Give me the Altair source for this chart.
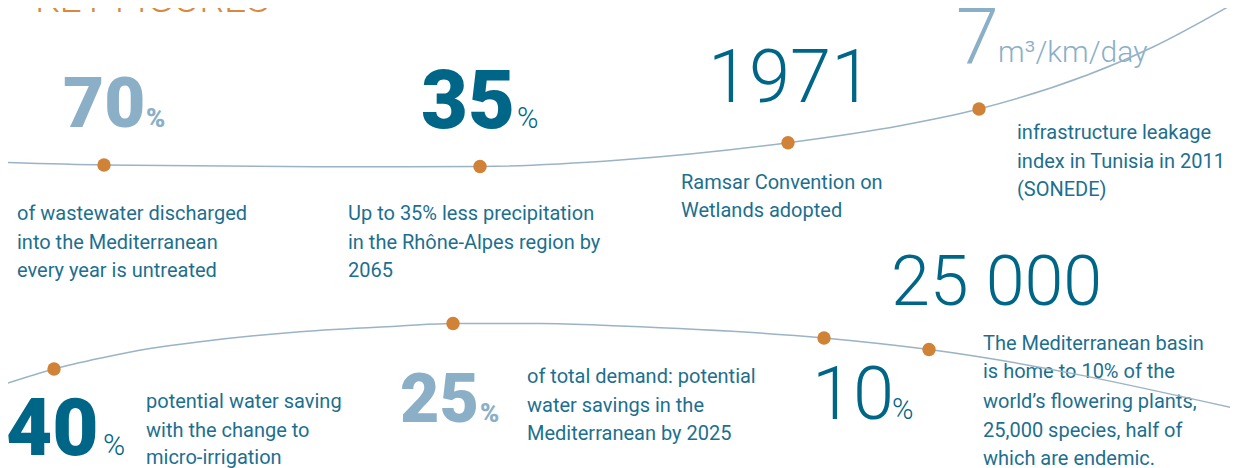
import altair as alt
import pandas as pd

# ---------------- data ----------------
# upper and lower connecting curves (image pixel coordinates, y downwards)
top_curve_x = [0, 104, 340, 480, 620, 788, 900, 979, 1153, 1240]
top_curve_y = [162.3, 165, 166.7, 166.5, 160, 142.7, 125.7, 109, 47, 0]
bot_curve_x = [0, 54, 100, 150, 200, 300, 400, 453, 540, 620, 824, 929, 1240]
bot_curve_y = [385.7, 369, 358.3, 348.5, 341.7, 331.7, 326, 323.5, 323.5, 326, 338, 349.5, 409.5]

# orange markers on the curves
dot_x = [104, 480, 788, 979, 54, 453, 824, 929]
dot_y = [165, 166.5, 142.7, 109, 369, 323.5, 338, 349.5]

title_text = ["KEY FIGURES"]

big_bold_dark = ["35", "40"]
big_bold_light = ["70", "25"]
big_light_dark = ["1971", "25 000", "10"]
big_light_light = ["7", "m³/km/day"]
pct_labels = ["%", "%", "%", "%", "%"]

body_lines = [
    "of wastewater discharged", "into the Mediterranean", "every year is untreated",
    "Up to 35% less precipitation", "in the Rhône-Alpes region by", "2065",
    "Ramsar Convention on", "Wetlands adopted",
    "infrastructure leakage", "index in Tunisia in 2011", "(SONEDE)",
    "potential water saving", "with the change to", "micro-irrigation",
    "of total demand: potential", "water savings in the", "Mediterranean by 2025",
    "The Mediterranean basin", "is home to 10% of the", "world’s flowering plants,",
    "25,000 species, half of", "which are endemic.",
]

# ---------------- layout (positions / sizes) ----------------
body_pos = [
    (17, 220), (17, 249), (17, 277),
    (348, 220), (348, 249), (348, 277),
    (681, 189), (681, 217),
    (1017, 139), (1017, 168), (1017, 196),
    (146, 408), (146, 437), (146, 464),
    (527, 383), (527, 412), (527, 440),
    (983, 350), (983, 378), (983, 408), (983, 437), (983, 465),
]
bbd_pos = [(421, 128, 81), (6, 455, 80)]
bbl_pos = [(63, 127, 71), (400, 422, 68)]
bld_pos = [(708, 102, 74), (891, 305, 70), (812, 419, 74)]
bll_pos = [(956, 64, 77), (998, 62, 30)]
pct_pos = [  # x, y, size, weight, color-key
    (146, 127, 26, 900, "light"),
    (517, 128, 29, 300, "dark"),
    (103, 455, 30, 300, "dark"),
    (480, 422, 26, 900, "light"),
    (892, 419, 29, 300, "dark"),
]

DARK = "#006688"
LIGHT = "#8aafc7"
BODY = "#1d6f8f"
ORANGE = "#d08237"
CURVE = "#9ab4c5"
FONT = "Roboto"

W, H = 1222, 460
xs = alt.Scale(domain=[8, 8 + W], nice=False, zero=False)
ys = alt.Scale(domain=[8 + H, 8], nice=False, zero=False)
X = alt.X("x:Q", scale=xs, axis=None)
Y = alt.Y("y:Q", scale=ys, axis=None)


def text_layer(labels, pos, color, weight, size=None):
    rows = []
    for t, p in zip(labels, pos):
        rows.append({"t": t, "x": p[0], "y": p[1], "s": p[2] if size is None else size})
    df = pd.DataFrame(rows)
    return alt.Chart(df).mark_text(
        align="left", baseline="alphabetic", font=FONT, fontWeight=weight, color=color
    ).encode(x=X, y=Y, text="t:N", size=alt.Size("s:Q", scale=None, legend=None))


layers = []
layers.append(text_layer(title_text, [(35, 12, 39)], "#d9893f", 300))
layers.append(text_layer(body_lines, [(p[0], p[1], 20) for p in body_pos], BODY, 400))
layers.append(text_layer(big_bold_dark, bbd_pos, DARK, 900))
layers.append(text_layer(big_bold_light, bbl_pos, LIGHT, 900))
layers.append(text_layer(big_light_dark, bld_pos, DARK, 300))
layers.append(text_layer(big_light_light, bll_pos, LIGHT, 300))
for lab, p in zip(pct_labels, pct_pos):
    layers.append(text_layer([lab], [p[:3]], DARK if p[4] == "dark" else LIGHT, p[3]))

top_df = pd.DataFrame({"x": top_curve_x, "y": top_curve_y})
bot_df = pd.DataFrame({"x": bot_curve_x, "y": bot_curve_y})
for df in (top_df, bot_df):
    layers.append(
        alt.Chart(df).mark_line(interpolate="monotone", color=CURVE, strokeWidth=1.5)
        .encode(x=X, y=Y, order="x:Q")
    )

dots_df = pd.DataFrame({"x": dot_x, "y": dot_y})
layers.append(
    alt.Chart(dots_df).mark_circle(color=ORANGE, opacity=1, size=180).encode(x=X, y=Y)
)

chart = (
    alt.layer(*layers)
    .properties(width=W, height=H, padding=0, autosize=alt.AutoSizeParams(type="none"),
                background="white")
    .configure_view(stroke=None)
)

chart.save("out.html", embed_options={"renderer": "svg", "actions": False})
